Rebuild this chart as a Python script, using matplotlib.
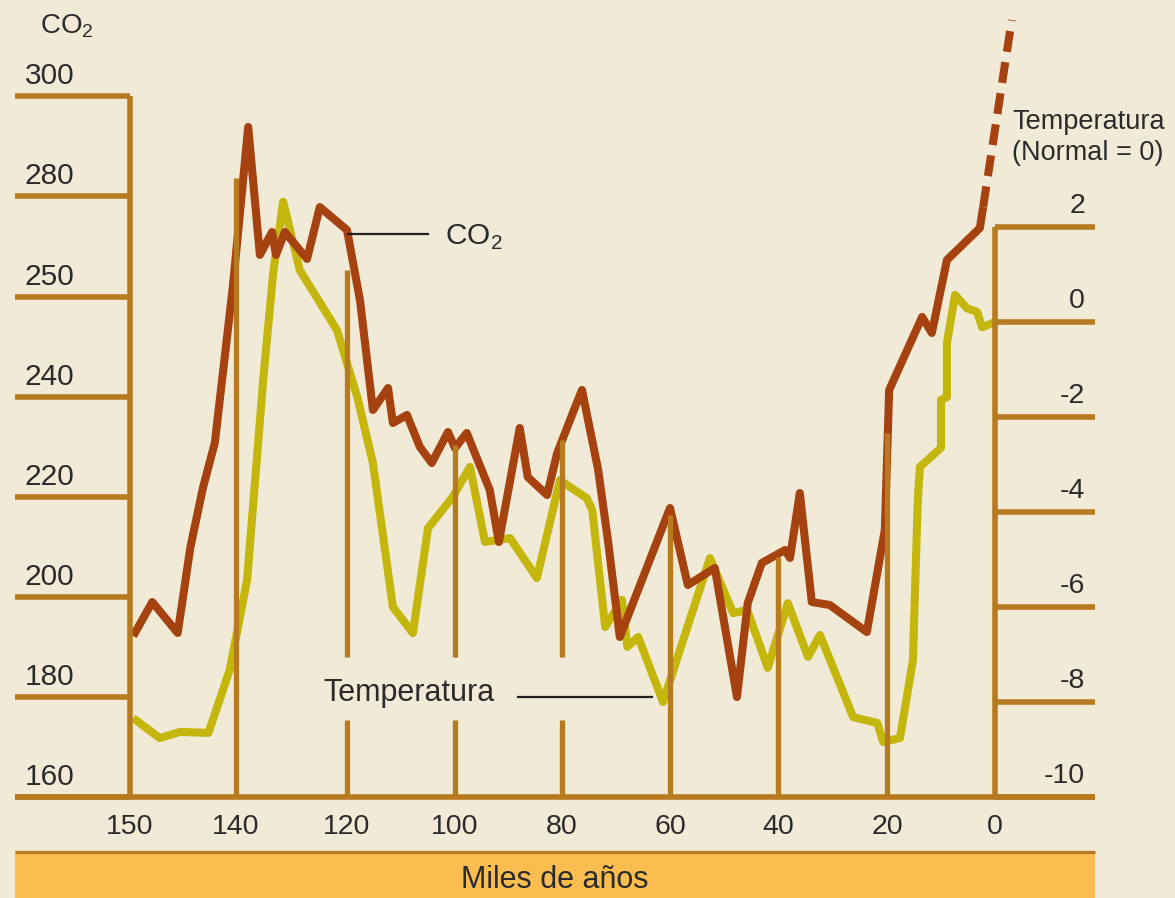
import numpy as np
import matplotlib
matplotlib.use("Agg")
import matplotlib.pyplot as plt
import matplotlib.transforms as mtransforms

plt.rcParams["font.family"] = ["Liberation Sans", "DejaVu Sans"]
plt.rcParams["mathtext.fontset"] = "custom"
plt.rcParams["mathtext.rm"] = "Liberation Sans"

# Axis labels (the printed axes are not evenly scaled)
age_ticks = [150, 140, 120, 100, 80, 60, 40, 20, 0]
co2_ticks = [160, 180, 200, 220, 240, 250, 280, 300]
temp_ticks = [2, 0, -2, -4, -6, -8, -10]

# CO2 (ppm) vs thousands of years ago
co2_age = [149.7, 147.9, 145.5, 144.3, 143.1, 142.0, 140.3, 137.8, 135.7, 133.5,
           132.8, 131.2, 127.2, 124.9, 120.0, 117.6, 115.2, 112.4, 111.5, 108.9,
           106.5, 104.3, 101.3, 100.0, 97.8, 93.5, 91.8, 87.9, 86.4, 82.8,
           80.9, 78.0, 76.3, 73.3, 71.5, 69.3, 60.0, 56.7, 51.7, 47.6,
           45.6, 43.0, 38.7, 37.8, 36.0, 33.8, 30.5, 23.7, 20.4, 19.6,
           13.5, 11.7, 8.9, 2.8, 2.2]
co2_ppm = [192.2, 199.0, 192.8, 210.0, 222.0, 230.8, 253.0, 293.8, 262.5, 269.3,
           262.5, 269.3, 261.3, 276.7, 269.9, 249.7, 237.4, 240.9, 234.8, 236.4,
           230.0, 226.8, 233.0, 229.8, 232.8, 221.4, 211.0, 233.8, 224.0, 220.4,
           228.8, 236.8, 240.7, 225.4, 211.4, 192.0, 217.8, 202.4, 205.8, 180.0,
           198.8, 206.8, 209.4, 207.8, 220.8, 199.0, 198.4, 193.0, 213.4, 240.7,
           248.0, 246.4, 261.0, 270.5, 276.7]

# projected CO2 (dashed)
co2_proj_age = [2.2, -3.1]
co2_proj_ppm = [276.7, 315.2]

# Temperature (difference from normal)
temp_age = [149.7, 147.2, 145.3, 142.6, 140.6, 138.0, 135.1, 133.3, 131.5, 128.5,
            121.8, 118.1, 115.2, 111.5, 107.8, 105.0, 100.4, 97.2, 94.4, 89.7,
            84.7, 80.4, 75.4, 74.4, 72.0, 68.9, 67.9, 65.9, 61.3, 52.6,
            48.3, 45.7, 41.9, 38.2, 34.5, 32.3, 26.2, 21.8, 20.7, 17.6,
            15.2, 14.3, 13.9, 10.0, 10.0, 8.9, 8.9, 7.4, 5.2, 3.3,
            2.4, 0.0]
temp_val = [-8.34, -8.76, -8.63, -8.65, -7.33, -5.43, -1.22, 1.03, 2.53, 1.09,
            -0.17, -1.58, -2.97, -6.00, -6.55, -4.34, -3.68, -3.05, -4.63, -4.55,
            -5.39, -3.33, -3.71, -3.96, -6.42, -5.85, -6.84, -6.63, -8.00, -4.97,
            -6.13, -6.06, -7.28, -5.92, -7.05, -6.59, -8.32, -8.44, -8.84, -8.76,
            -7.12, -3.75, -3.05, -2.65, -1.64, -1.58, -0.44, 0.57, 0.29, 0.21,
            -0.11, 0.00]

W, H = 1175, 898
BG = "#f0ead6"
AXC = "#b77a1e"
CO2C = "#a5420f"
TEMPC = "#c4b60c"
TXT = "#2b2b2b"

# pixel positions of the printed ticks, used to build piecewise scales
age_px = [130, 236, 347, 455, 562, 670, 778, 887, 995]
co2_py = [797, 697, 597, 497, 397, 297, 196, 96]

ax_a = [-100] + age_ticks[::-1] + [300]
ax_p = [-(995 + 100 * 5.4)] + [-p for p in age_px[::-1]] + [-(130 - 150 * 10.6)]
co_v = [0] + co2_ticks + [600]
co_p = [101 - 160 * 5] + [H - p for p in co2_py] + [802 + 300 * 5]


# forward maps age -> minus pixel column (increasing), inverse goes back
def fx(a):
    return np.interp(np.asarray(a, float), ax_a, ax_p)


def fx_inv(p):
    return np.interp(np.asarray(p, float), ax_p, ax_a)


def fy(v):
    return np.interp(np.asarray(v, float), co_v, co_p)


def fy_inv(p):
    return np.interp(np.asarray(p, float), co_p, co_v)


fig = plt.figure(figsize=(W / 100, H / 100), dpi=100, facecolor=BG)
ax = fig.add_axes([0, 0, 1, 1])
ax.set_xscale("function", functions=(fx, fx_inv))
ax.set_yscale("function", functions=(fy, fy_inv))
ax.set_xlim(float(fx_inv(0)), float(fx_inv(-W)))
ax.set_ylim(float(fy_inv(0)), float(fy_inv(H)))
ax.axis("off")
ax2 = ax.twinx()
ax2.set_ylim(2 - (H - 227) / 47.5, 2 + 227 / 47.5)
ax2.axis("off")

P = mtransforms.Affine2D().scale(1 / W, -1 / H).translate(0, 1) + ax.transAxes
x_data_y_pix = mtransforms.blended_transform_factory(ax.transData, P)
x_pix_y_data = mtransforms.blended_transform_factory(P, ax.transData)
x_pix_y_temp = mtransforms.blended_transform_factory(P, ax2.transData)
left_lab = mtransforms.offset_copy(x_pix_y_data, fig=fig, x=0, y=12, units="dots")
right_lab = mtransforms.offset_copy(x_pix_y_temp, fig=fig, x=0, y=14, units="dots")

x_left = float(fx_inv(-15))
x_right = float(fx_inv(-1095))
lw_ax = 4.0

# left axis and its long ticks
ax.plot([150, 150], [160, 300], color=AXC, lw=lw_ax, solid_capstyle="butt", zorder=3)
for v in co2_ticks:
    ax.plot([x_left, 150], [v, v], color=AXC, lw=lw_ax, solid_capstyle="butt", zorder=3)
    ax.text(25, v, str(v), transform=left_lab, fontsize=21.5, color=TXT,
            ha="left", va="baseline")
ax.text(40, 33, "CO$_\\mathregular{2}$", transform=P, fontsize=20, color=TXT,
        ha="left", va="baseline")

# bottom axis
ax.plot([x_left, x_right], [160, 160], color=AXC, lw=lw_ax, solid_capstyle="butt", zorder=3)
for a in age_ticks:
    ax.text(a, 834, str(a), transform=x_data_y_pix, fontsize=20.5, color=TXT,
            ha="center", va="baseline")

# vertical guide lines (drawn from the bottom axis up to varying heights)
grid_tops = {140: 178, 120: 270, 100: 445, 80: 440, 60: 515, 40: 557, 20: 433}
for a, top in grid_tops.items():
    if a in (120, 100, 80):
        segs = [(top, 657), (720, 797)]
    else:
        segs = [(top, 797)]
    for y0, y1 in segs:
        ax.plot([a, a], [y0, y1], transform=x_data_y_pix, color=AXC, lw=3.8,
                solid_capstyle="butt", zorder=4)

# right (temperature) axis
ax.plot([0, 0], [-10, 2], transform=ax2.transData, color=AXC, lw=lw_ax,
        solid_capstyle="butt", zorder=3)
for t in temp_ticks:
    ax.plot([0, x_right], [t, t], transform=ax2.transData, color=AXC, lw=lw_ax,
            solid_capstyle="butt", zorder=3)
    ax.text(1085, t, str(t), transform=right_lab, fontsize=20.5, color=TXT,
            ha="right", va="baseline")
ax.text(1012, 129, "Temperatura", transform=P, fontsize=19.5, color=TXT,
        ha="left", va="baseline")
ax.text(1012, 160, "(Normal = 0)", transform=P, fontsize=19.5, color=TXT,
        ha="left", va="baseline")

# curves
ax.plot(temp_age, temp_val, transform=ax2.transData, color=TEMPC, lw=5.8,
        solid_joinstyle="round", solid_capstyle="butt", zorder=2)
ax.plot(co2_age, co2_ppm, color=CO2C, lw=5.8, solid_joinstyle="round",
        solid_capstyle="butt", zorder=2.5)
ax.plot(co2_proj_age, co2_proj_ppm, color=CO2C, lw=5.8, dashes=(2.6, 1.3),
        dash_capstyle="butt", zorder=2.5)

# leader labels
ax.plot([348, 428], [234, 234], transform=P, color="#222222", lw=1.6, zorder=5)
ax.text(445, 245, "CO$_\\mathregular{2}$", transform=P, fontsize=21.5, color=TXT,
        ha="left", va="baseline")
ax.plot([518, 652], [697, 697], transform=P, color="#222222", lw=1.6, zorder=5)
ax.text(323, 701, "Temperatura", transform=P, fontsize=22, color=TXT,
        ha="left", va="baseline")

# bottom band
band = plt.Rectangle((15 / W, 0), 1080 / W, 1 - 851 / H, transform=ax.transAxes,
                     facecolor="#fbbd50", edgecolor="none", zorder=1)
ax.add_patch(band)
ax.plot([15, 1095], [852, 852], transform=P, color=AXC, lw=2.4,
        solid_capstyle="butt", zorder=1.5)
ax.text(555, 888, "Miles de años", transform=P, fontsize=22, color=TXT,
        ha="center", va="baseline")

fig.savefig("out.png", dpi=100, facecolor=BG)
